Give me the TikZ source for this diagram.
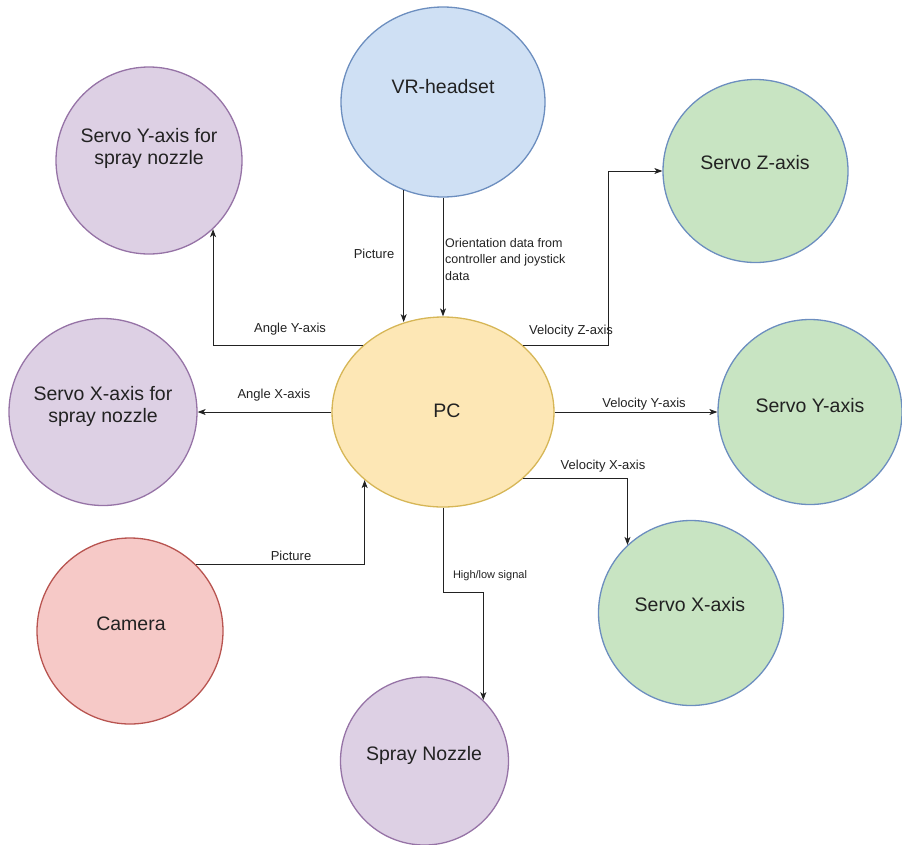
\documentclass[tikz,border=0pt]{standalone}
\usepackage{fontspec}
\setmainfont{Liberation Sans}
\usetikzlibrary{shapes.geometric,arrows.meta}
\definecolor{bluefill}{HTML}{CFE0F4}
\definecolor{bluedraw}{HTML}{6C8EBF}
\definecolor{purpfill}{HTML}{DDD0E4}
\definecolor{purpdraw}{HTML}{9673A6}
\definecolor{greenfill}{HTML}{C8E4C2}
\definecolor{yelfill}{HTML}{FDE7B5}
\definecolor{yeldraw}{HTML}{D6B656}
\definecolor{redfill}{HTML}{F6C9C7}
\definecolor{reddraw}{HTML}{B85450}
\definecolor{txt}{HTML}{222222}
\definecolor{lin}{HTML}{222222}
\begin{document}
\begin{tikzpicture}[x=1pt,y=-1pt,
  blob/.style={ellipse, draw, line width=1.3pt, inner sep=0pt},
  bluenode/.style={blob, fill=bluefill, draw=bluedraw},
  purpnode/.style={blob, fill=purpfill, draw=purpdraw},
  greennode/.style={blob, fill=greenfill, draw=bluedraw},
  yelnode/.style={blob, fill=yelfill, draw=yeldraw},
  rednode/.style={blob, fill=redfill, draw=reddraw},
  big/.style={font=\fontsize{19.5}{22}\selectfont, text=txt, align=center, inner sep=0pt},
  elab/.style={font=\fontsize{13}{16}\selectfont, text=txt, inner sep=0pt},
  slab/.style={font=\fontsize{11}{13}\selectfont, text=txt, inner sep=0pt},
  arr/.style={draw=lin, line width=0.9pt, -{Stealth[length=8pt,width=6pt,inset=2.2pt]}}]
\useasboundingbox (0,0) rectangle (902,844);

% shapes
\node[bluenode, minimum width=204pt, minimum height=190pt] (vr) at (443,102) {};
\node[purpnode, minimum width=186pt, minimum height=187pt] (svy) at (149,160.5) {};
\node[greennode, minimum width=185pt, minimum height=183pt] (svz) at (755.5,171) {};
\node[yelnode, minimum width=222pt, minimum height=190pt] (pc) at (443,412) {};
\node[purpnode, minimum width=188pt, minimum height=187pt] (svx) at (103,412) {};
\node[greennode, minimum width=184pt, minimum height=185pt] (syr) at (810,412) {};
\node[rednode, minimum width=186pt, minimum height=186pt] (cam) at (130,631) {};
\node[greennode, minimum width=185pt, minimum height=185pt] (sxr) at (691,613) {};
\node[purpnode, minimum width=168pt, minimum height=168pt] (spr) at (424.5,761) {};

% texts
\node[big] (vrt) at (443,87) {VR-headset};
\node[big] (svyt) at (149,148) {Servo Y-axis for\\spray nozzle};
\node[big] (svzt) at (755,163) {Servo Z-axis};
\node[big] (pct) at (447,411) {PC};
\node[big] (svxt) at (103,406) {Servo X-axis for\\spray nozzle};
\node[big] (syrt) at (810,406) {Servo Y-axis};
\node[big] (camt) at (131,624) {Camera};
\node[big] (sxrt) at (690,605) {Servo X-axis};
\node[big] (sprt) at (424,755) {Spray Nozzle};

% connectors
\draw[arr] (vr.246.7) -- (vr.246.7 |- pc.113.05);
\draw[arr] (vr.south) -- (pc.north);
\draw[arr] (pc.140.8) -| (svy.-47.6);
\draw[arr] (pc.west) -- (svx.east);
\draw[arr] (pc.40.3) -- ++(86,0) |- (svz.west);
\draw[arr] (pc.east) -- (syr.west);
\draw[arr] (pc.-40.3) -| (sxr.133.7);
\draw[arr] (pc.south) -- ++(0,85) -| (spr.46.7);
\draw[arr] (cam.45) -| (pc.221.1);

% connector labels
\node[elab] (l1) at (374,254) {Picture};
\node[elab, font=\fontsize{12.5}{16.5}\selectfont, align=left, anchor=north west] (l2) at (445,238) {Orientation data from\\controller and joystick\\data};
\node[elab] (l3) at (290,329) {Angle Y-axis};
\node[elab] (l4) at (274,395) {Angle X-axis};
\node[elab] (l5) at (571,331) {Velocity Z-axis};
\node[elab] (l6) at (644,404) {Velocity Y-axis};
\node[elab] (l7) at (603,466) {Velocity X-axis};
\node[elab] (l8) at (291,556) {Picture};
\node[slab] (l9) at (490,576) {High/low signal};
\end{tikzpicture}
\end{document}
